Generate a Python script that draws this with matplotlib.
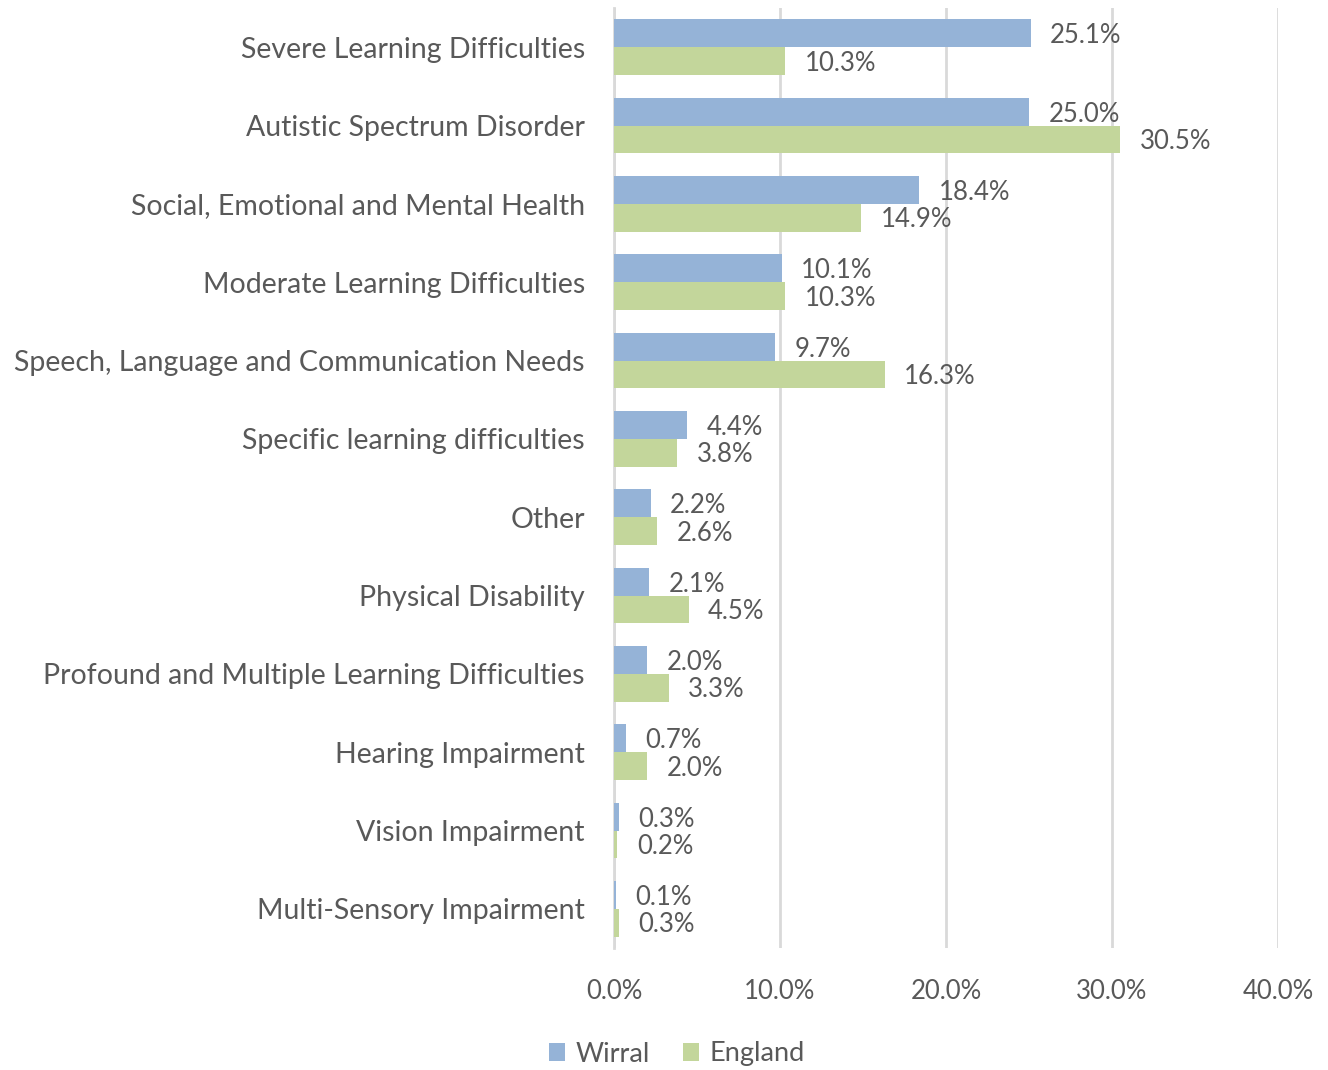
import matplotlib
matplotlib.use("Agg")
import matplotlib.pyplot as plt
import numpy as np
from matplotlib.ticker import FuncFormatter

# Data (percent of pupils by primary need)
categories = [
    "Severe Learning Difficulties",
    "Autistic Spectrum Disorder",
    "Social, Emotional and Mental Health",
    "Moderate Learning Difficulties",
    "Speech, Language and Communication Needs",
    "Specific learning difficulties",
    "Other",
    "Physical Disability",
    "Profound and Multiple Learning Difficulties",
    "Hearing Impairment",
    "Vision Impairment",
    "Multi-Sensory Impairment",
]
wirral = [25.1, 25.0, 18.4, 10.1, 9.7, 4.4, 2.2, 2.1, 2.0, 0.7, 0.3, 0.1]
england = [10.3, 30.5, 14.9, 10.3, 16.3, 3.8, 2.6, 4.5, 3.3, 2.0, 0.2, 0.3]
x_ticks = [0, 10, 20, 30, 40]

BLUE = "#95B3D7"
GREEN = "#C3D69B"
TEXT = "#595959"
GRID = "#D9D9D9"

plt.rcParams['font.family'] = ['Lato', 'DejaVu Sans']

fig = plt.figure(figsize=(13.28, 10.7), dpi=100)
ax = fig.add_axes([614 / 1328, 1 - 948 / 1070, 664 / 1328, 940 / 1070])

y = np.arange(len(categories))
h = 0.357
ax.barh(y - h / 2, wirral, height=h, color=BLUE, label="Wirral", zorder=3)
ax.barh(y + h / 2, england, height=h, color=GREEN, label="England", zorder=3)

for yi, v in zip(y, wirral):
    ax.annotate(f"{v:.1f}%", (v, yi - h / 2), xytext=(14, -2), textcoords="offset points",
                va="center", ha="left", fontsize=18.5, color=TEXT)
for yi, v in zip(y, england):
    ax.annotate(f"{v:.1f}%", (v, yi + h / 2), xytext=(14, -1.5), textcoords="offset points",
                va="center", ha="left", fontsize=18.5, color=TEXT)

ax.set_xlim(0, 40)
ax.set_ylim(len(categories) - 0.5, -0.5)
ax.set_xticks(x_ticks)
ax.xaxis.set_major_formatter(FuncFormatter(lambda v, p: f"{v:.1f}%"))
ax.set_yticks(y)
ax.set_yticklabels(categories)
ax.tick_params(axis="both", length=0, colors=TEXT)
ax.tick_params(axis="y", pad=21, labelsize=20.5)
ax.tick_params(axis="x", pad=22, labelsize=18.5)
ax.grid(axis="x", color=GRID, linewidth=2, zorder=0)
for s in ["top", "right", "bottom"]:
    ax.spines[s].set_visible(False)
ax.spines["left"].set_color(GRID)
ax.spines["left"].set_linewidth(2)

ax.legend(loc="center", bbox_to_anchor=(677 / 1328, 1 - 1054 / 1070),
          bbox_transform=fig.transFigure, ncol=2, frameon=False, fontsize=19.5,
          handlelength=0.6, handleheight=0.6, handletextpad=0.4, columnspacing=1.2,
          labelcolor=TEXT)

fig.savefig("out.png", dpi=100)
